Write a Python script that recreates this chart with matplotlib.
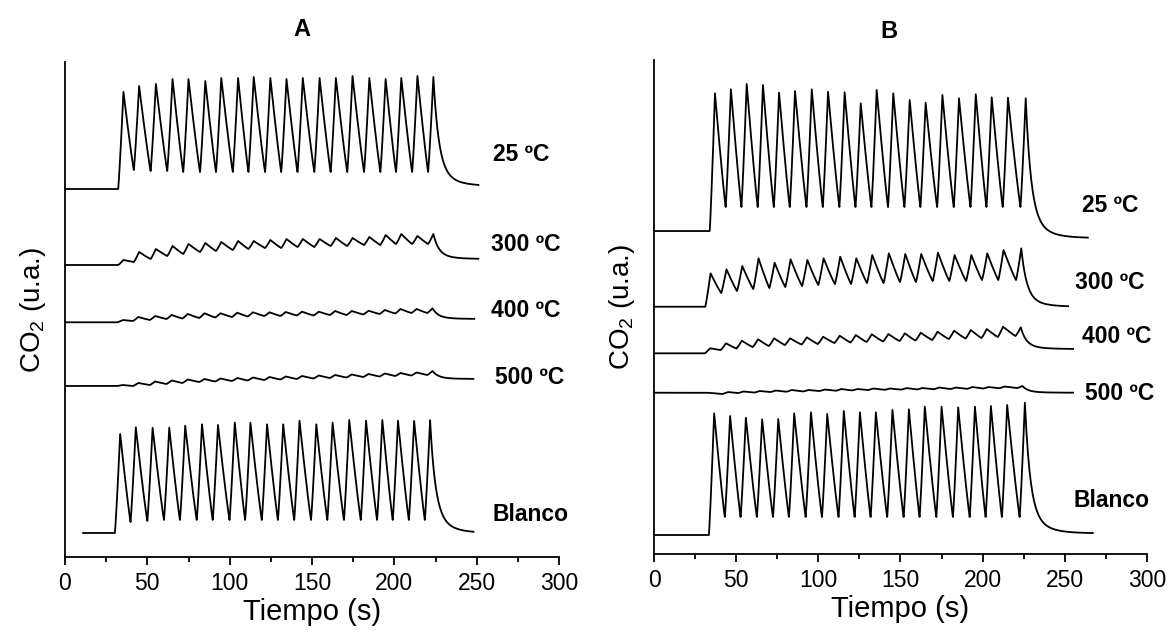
import numpy as np
import matplotlib
matplotlib.use('Agg')
import matplotlib.pyplot as plt
from matplotlib.ticker import MultipleLocator

plt.rcParams['font.family'] = ['Liberation Sans', 'DejaVu Sans']
plt.rcParams['mathtext.fontset'] = 'custom'
plt.rcParams['mathtext.rm'] = 'Liberation Sans'
plt.rcParams['mathtext.default'] = 'regular'

tA = [35.5, 45.0, 55.2, 65.3, 75.0, 85.2, 94.9, 105.1, 114.6, 124.7,
      134.5, 144.4, 154.6, 164.5, 174.6, 184.8, 194.7, 204.2, 214.0, 223.7]
tB = [37.1, 46.8, 56.4, 66.3, 76.1, 85.8, 96.0, 105.9, 116.0, 125.8,
      135.5, 145.6, 155.6, 165.3, 175.5, 185.6, 195.8, 205.5, 215.4, 226.2]

# ---- Panel A (u.a.) ----
A25_pico = [465, 471, 473, 478, 478, 476, 479, 479, 480, 479,
            478, 479, 479, 479, 481, 479, 478, 479, 481, 480]
A25_valle = [387, 386, 386, 385, 385, 385, 385, 385, 385, 385,
             385, 385, 385, 385, 385, 385, 385, 385, 385]
A300_pico = [297, 305, 308, 311, 313, 314, 315, 316, 316, 317,
             318, 318, 318, 319, 319, 320, 322, 323, 321, 323]
A300_valle = [295, 298, 301, 303, 305, 306, 307, 308, 309, 309,
              310, 310, 311, 311, 312, 312, 313, 313, 313]
A400_pico = [237, 240, 241, 242, 243, 243.7, 243.7, 244.3, 244.7, 244.7,
             245, 245.3, 245.3, 246, 246, 246.3, 247, 248, 248, 248.7]
A400_valle = [236, 237, 238, 238.5, 239, 239.5, 240, 240.5, 241, 241,
              241.5, 241.5, 242, 242, 242.5, 243, 243.5, 244, 244]
A500_pico = [172, 174, 175.5, 176.5, 177.5, 178, 178.5, 179, 179.5, 180,
             180.5, 181, 181.5, 182, 182.5, 183, 183.5, 184, 184.5, 186]
A500_valle = [171, 172, 173, 174, 175, 175.5, 176, 176.5, 177, 177.5,
              178, 178.5, 179, 179.5, 180, 180.5, 181, 181.5, 182]
ABl_pico = [123, 129.7, 129.3, 129.3, 131.3, 132.7, 132, 134.3, 134.3, 132.7,
            132.7, 136.3, 132.7, 134.3, 137, 136.3, 137, 136.3, 136, 136.7]
ABl_valle = [35, 36, 37, 37, 37, 37, 37, 37, 37, 37,
             37, 37, 37, 37, 37, 37, 37, 37, 37]

# ---- Panel B (u.a.) ----
B25_pico = [460.7, 464.7, 470, 469, 461.3, 463, 464.7, 462.3, 461.7, 450.7,
            464, 460.7, 454, 451.3, 459, 455.7, 459.7, 456.7, 456.3, 455.7]
B25_valle = [347, 347, 347, 347, 347, 347, 347, 347, 347, 347,
             347, 347, 347, 347, 347, 347, 347, 347, 347]
B300_pico = [280.7, 284.7, 288, 295.7, 291.3, 294.7, 294, 295.7, 297.3, 295.7,
             299, 300.7, 300, 300, 301.3, 299, 299, 300.7, 304, 305.7]
B300_valle = [261, 263, 265, 266, 267, 268, 269, 270, 270, 271,
              271, 272, 272, 273, 273, 273, 274, 274, 274]
B400_pico = [205.7, 210.7, 213.3, 214.7, 215.7, 215.7, 216.7, 217.3, 218.3, 219,
             219.7, 220, 220.7, 221.3, 222.3, 223.3, 224, 225, 227.3, 226.7]
B400_valle = [204, 205.5, 207, 208, 209, 209.5, 210, 211, 211.5, 212,
              212.5, 213, 213.5, 214, 215, 215.5, 216, 217, 218]
B500_pico = [161, 162, 162.5, 163, 163.5, 164, 164, 164.5, 165, 165,
             165.5, 165.5, 166, 166, 166.5, 166.5, 167, 167, 167.5, 168]
B500_valle = [160, 161, 161.5, 162, 162.3, 162.6, 163, 163.3, 163.6, 164,
              164.2, 164.4, 164.6, 164.8, 165, 165.2, 165.5, 165.8, 166]
BBl_pico = [140.7, 138, 136.3, 134.7, 135, 140.7, 141.7, 140, 143, 141.7,
            141.7, 144, 144.7, 147.3, 147.3, 146.7, 147.3, 148, 149, 151.3]
BBl_valle = [37, 37, 37, 37, 37, 37, 37, 37, 37, 37,
             37, 37, 37, 37, 37, 37, 37, 37, 37]

etiquetas = ['25 ºC', '300 ºC', '400 ºC', '500 ºC', 'Blanco']

# (picos, valles, linea base, t inicio, t final, nivel final, desfase)
trazasA = [
    (A25_pico, A25_valle, 368, 0, 251, 371, 0.0),
    (A300_pico, A300_valle, 292, 0, 251, 298, 0.0),
    (A400_pico, A400_valle, 234.7, 0, 248.5, 238, -0.5),
    (A500_pico, A500_valle, 171, 0, 248, 178, -0.5),
    (ABl_pico, ABl_valle, 24, 11, 248, 24, -2.0),
]
trazasB = [
    (B25_pico, B25_valle, 323, 0, 264, 316, 0.0),
    (B300_pico, B300_valle, 247.3, 0, 252, 247.3, -2.7),
    (B400_pico, B400_valle, 200.7, 0, 255, 205, -3.0),
    (B500_pico, B500_valle, 161.3, 0, 255, 161.3, -2.0),
    (BBl_pico, BBl_valle, 19, 0, 267, 20.7, -0.5),
]
posA = [(260, 402), (258.5, 312), (258.5, 246), (261, 179), (259.5, 42)]
posB = [(260.5, 349), (256, 272), (260.5, 218), (262.5, 161), (255.5, 54)]


def curva(tp, pico, valle, base, t0, tfin, yfin, desfase):
    tp = np.array(tp) + desfase
    sube = 3.2
    t = [t0, tp[0] - sube]
    y = [base, base]
    for i in range(len(tp)):
        y0 = y[-1]
        tr = np.linspace(tp[i] - sube, tp[i], 10)[1:]
        u = (tr - (tp[i] - sube)) / sube
        t += list(tr)
        y += list(y0 + (pico[i] - y0) * u ** 1.15)
        if i < len(tp) - 1:
            td = np.linspace(tp[i], tp[i + 1] - sube, 25)[1:]
            u = (td - tp[i]) / (td[-1] - tp[i])
            t += list(td)
            y += list(valle[i] + (pico[i] - valle[i]) * (1 - u) ** 1.1)
        else:
            td = np.linspace(tp[i], tfin, 90)[1:]
            dt = td - tp[i]
            t += list(td)
            y += list(yfin + (pico[i] - yfin) * (0.8 * np.exp(-dt / 3.2) + 0.2 * np.exp(-dt / 9)))
    return t, y


fig = plt.figure(figsize=(11.71, 6.32), dpi=100)
axA = fig.add_axes([0.0555, 0.1187, 0.4219, 0.7832])
axB = fig.add_axes([0.5585, 0.1234, 0.4210, 0.7816])

for ax, tp, trazas, pos, ytop in [(axA, tA, trazasA, posA, 495), (axB, tB, trazasB, posB, 494)]:
    for (pico, valle, base, t0, tfin, yfin, d), lab, (xl, yl) in zip(trazas, etiquetas, pos):
        t, y = curva(tp, pico, valle, base, t0, tfin, yfin, d)
        ax.plot(t, y, color='black', lw=1.3)
        ax.text(xl, yl, lab, fontsize=16.5, fontweight='bold', va='center', ha='left')
    ax.set_xlim(0, 300)
    ax.set_ylim(0, ytop)
    ax.spines['top'].set_visible(False)
    ax.spines['right'].set_visible(False)
    ax.spines['left'].set_linewidth(1.3)
    ax.spines['bottom'].set_linewidth(1.3)
    ax.set_yticks([])
    ax.xaxis.set_major_locator(MultipleLocator(50))
    ax.xaxis.set_minor_locator(MultipleLocator(25))
    ax.tick_params(axis='x', which='major', length=6, width=1.3, labelsize=16.5, pad=5)
    ax.tick_params(axis='x', which='minor', length=3.5, width=1.3)
    ax.set_xlabel('Tiempo (s)', fontsize=21, labelpad=2)
    ax.set_ylabel('CO$_2$ (u.a.)', fontsize=20, labelpad=12)

fig.text(302 / 1171, 1 - 29 / 632, 'A', fontsize=17, fontweight='bold', ha='center', va='center')
fig.text(889 / 1171, 1 - 31 / 632, 'B', fontsize=17, fontweight='bold', ha='center', va='center')

fig.savefig('out.png', dpi=100)
